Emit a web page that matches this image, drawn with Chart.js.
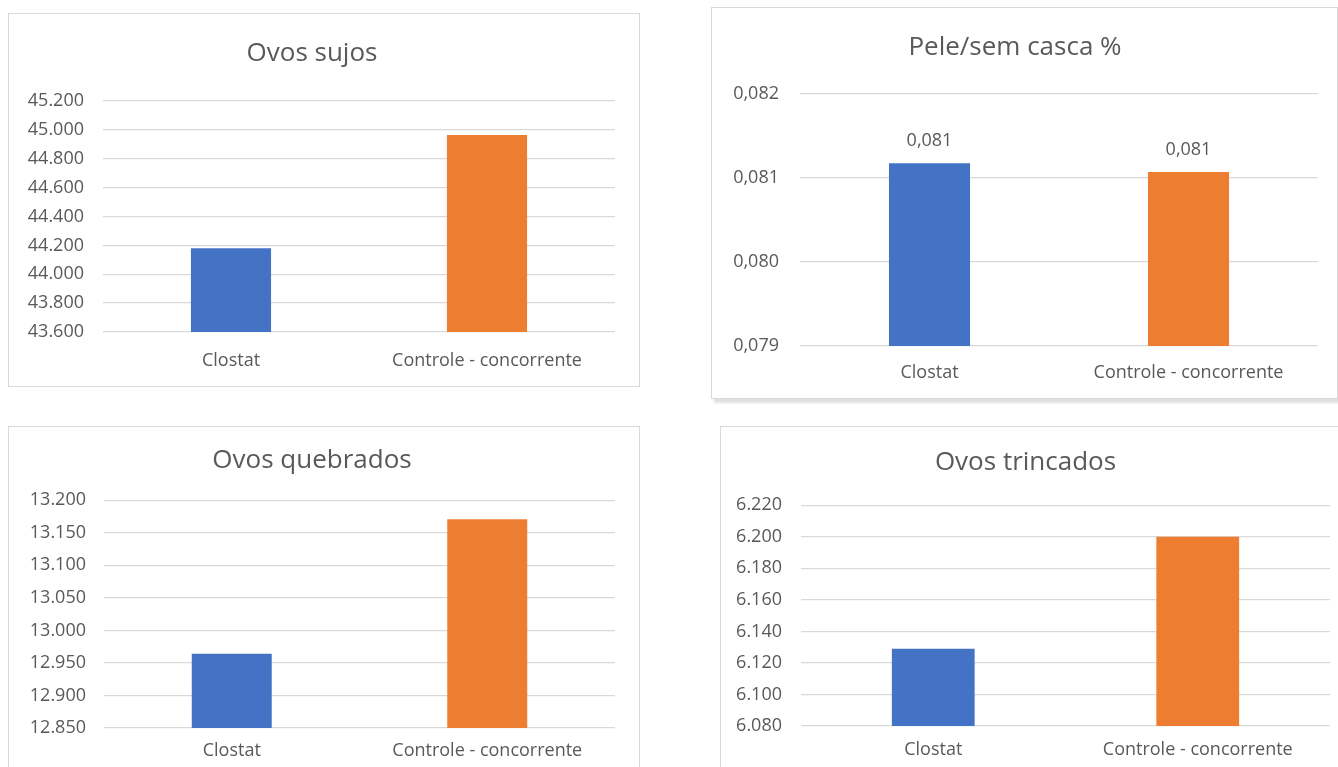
<!DOCTYPE html>
<html>
<head>
<meta charset="utf-8">
<script src="https://cdn.jsdelivr.net/npm/chart.js"></script>
<style>
    body { margin: 0; width: 1338px; height: 767px; overflow: hidden; background: #fff; position: relative; }
    .panel { position: absolute; box-sizing: border-box; border: 1px solid #d9d9d9; background: #fff; }
    .panel canvas { position: absolute; left: 0; top: 0; }
    #p2 { box-shadow: 3px 4px 2px rgba(0, 0, 0, 0.12); }
</style>
</head>
<body>
<div class="panel" id="p1" style="left:8px;top:13px;width:632px;height:374px"><canvas id="c1" width="630" height="372"></canvas></div>
<div class="panel" id="p2" style="left:711px;top:7px;width:627px;height:392px"><canvas id="c2" width="625" height="390"></canvas></div>
<div class="panel" id="p3" style="left:8px;top:426px;width:632px;height:360px"><canvas id="c3" width="630" height="345"></canvas></div>
<div class="panel" id="p4" style="left:720px;top:426px;width:640px;height:360px"><canvas id="c4" width="625" height="345"></canvas></div>

<script>
// data
const categories = ["Clostat", "Controle - concorrente"];
const barColors = ["#4472C4", "#ED7D31"];

const ovosSujos = [44180, 44965];
const ovosSujosTicks = [43600, 45200, 200];

const peleSemCasca = [0.081172, 0.081068];
const peleTicks = [0.079, 0.082, 0.001];

const ovosQuebrados = [12964, 13171];
const ovosQuebradosTicks = [12850, 13200, 50];

const ovosTrincados = [6129, 6200];
const ovosTrincadosTicks = [6080, 6220, 20];

const textColor = "#595959";
const gridColor = "#d9d9d9";
const fontFamily = "'Open Sans', 'Noto Sans', sans-serif";

// 45200 -> "45.200"
function thousands(v) {
    return Math.round(v).toString().replace(/\B(?=(\d{3})+(?!\d))/g, ".");
}
// 0.081 -> "0,081"
function decimalComma(v) {
    return v.toFixed(3).replace(".", ",");
}

// labels above the bars (only the "Pele/sem casca" chart has them)
const barValueLabels = {
    id: "barValueLabels",
    afterDatasetsDraw(chart, args, opts) {
        if (!opts.show) return;
        const ctx = chart.ctx;
        const meta = chart.getDatasetMeta(0);
        ctx.save();
        ctx.font = "18px " + fontFamily;
        ctx.fillStyle = textColor;
        ctx.textAlign = "center";
        ctx.textBaseline = "middle";
        meta.data.forEach((bar, i) => {
            const v = chart.data.datasets[0].data[i];
            ctx.fillText(opts.format(v), bar.x, bar.y - 22);
        });
        ctx.restore();
    }
};

function makeChart(id, title, values, ticks, fmt, lay, showLabels) {
    const ctx = document.getElementById(id).getContext("2d");
    return new Chart(ctx, {
        type: "bar",
        data: {
            labels: categories,
            datasets: [{
                data: values,
                backgroundColor: barColors,
                borderWidth: 0,
                categoryPercentage: 1,
                barPercentage: 0.313,
            }],
        },
        options: {
            responsive: false,
            animation: false,
            layout: { padding: { left: 0, right: lay.right, top: 0, bottom: 0 } },
            scales: {
                x: {
                    grid: { display: false, drawTicks: false },
                    border: { display: false },
                    ticks: {
                        color: textColor,
                        font: { family: fontFamily, size: 18 },
                        padding: lay.xPad,
                        maxRotation: 0,
                    },
                    afterFit: (s) => { s.height = lay.xHeight; },
                },
                y: {
                    min: ticks[0],
                    max: ticks[1],
                    grid: { color: gridColor, lineWidth: 1.3, drawTicks: false },
                    border: { display: false },
                    ticks: {
                        stepSize: ticks[2],
                        color: textColor,
                        font: { family: fontFamily, size: 18 },
                        padding: lay.yPad,
                        callback: (v) => fmt(v),
                    },
                    afterFit: (s) => { s.width = lay.yWidth; },
                },
            },
            plugins: {
                legend: { display: false },
                tooltip: { enabled: false },
                title: {
                    display: true,
                    text: title,
                    color: textColor,
                    font: { family: fontFamily, size: 26, weight: "normal" },
                    padding: { top: lay.tTop, bottom: lay.tBottom },
                },
                barValueLabels: { show: showLabels, format: fmt },
            },
        },
        plugins: [barValueLabels],
    });
}

makeChart("c1", "Ovos sujos", ovosSujos, ovosSujosTicks, thousands,
    { right: 24, xPad: 18, xHeight: 54, yPad: 19, yWidth: 94, tTop: 24.4, tBottom: 31.4 }, false);

makeChart("c2", "Pele/sem casca %", peleSemCasca, peleTicks, decimalComma,
    { right: 19, xPad: 16.5, xHeight: 52, yPad: 21, yWidth: 88, tTop: 24.1, tBottom: 30.4 }, true);

makeChart("c3", "Ovos quebrados", ovosQuebrados, ovosQuebradosTicks, thousands,
    { right: 24, xPad: 12.5, xHeight: 44, yPad: 18, yWidth: 95, tTop: 18.4, tBottom: 23.7 }, false);

makeChart("c4", "Ovos trincados", ovosTrincados, ovosTrincadosTicks, thousands,
    { right: 16, xPad: 13, xHeight: 46, yPad: 19, yWidth: 80, tTop: 20.1, tBottom: 27 }, false);
</script>
</body>
</html>
